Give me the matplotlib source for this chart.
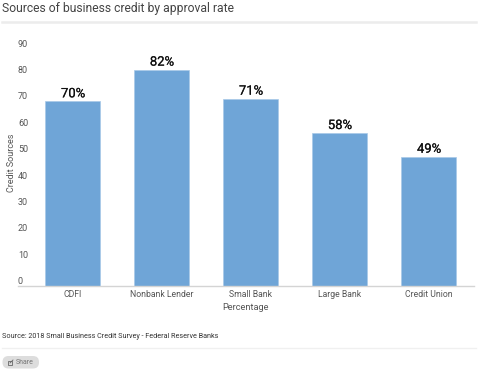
import matplotlib
matplotlib.use("Agg")
import matplotlib.pyplot as plt
import matplotlib.patheffects as pe
from matplotlib.patches import FancyBboxPatch, Rectangle
from matplotlib.lines import Line2D

categories = ["CDFI", "Nonbank Lender", "Small Bank", "Large Bank", "Credit Union"]
values = [70, 82, 71, 58, 49]
value_labels = ["70%", "82%", "71%", "58%", "49%"]
y_ticks = [0, 10, 20, 30, 40, 50, 60, 70, 80, 90]

W, H = 478, 373
plt.rcParams["font.family"] = ["Roboto", "DejaVu Sans"]
fig = plt.figure(figsize=(W / 100, H / 100), dpi=100, facecolor="white")

def fx(p): return p / W
def fy(p): return 1 - p / H

left, right, top, bottom = 18, 474, 48.6, 286.3
ax = fig.add_axes([fx(left), fy(bottom), (right - left) / W, (bottom - top) / H])
x = list(range(len(categories)))
ax.bar(x, values, width=0.618, color="#6fa5d7", edgecolor="#a9c9e8", linewidth=0.5, zorder=2)
ax.set_xlim(-0.618, 4.506)
ax.set_ylim(0, 90)
ax.set_xticks(x, categories)
ax.set_yticks(y_ticks, [str(v) for v in y_ticks])
ax.tick_params(axis="both", length=0, labelcolor="#555555", labelsize=6.2)
ax.tick_params(axis="y", pad=0, labelsize=6.5)
ax.tick_params(axis="x", pad=3.0)
for t in ax.get_yticklabels():
    t.set_ha("left")
    t.set_va("bottom")
for s in ["top", "right", "left"]:
    ax.spines[s].set_visible(False)
ax.spines["bottom"].set_color("#d4d4d4")
ax.spines["bottom"].set_linewidth(1.0)
ax.patch.set_alpha(0)

for xi, v, lab in zip(x, values, value_labels):
    ax.annotate(lab, (xi, v), xytext=(0, 0.8), textcoords="offset points",
                ha="center", va="bottom", fontsize=9.4, color="#111111",
                path_effects=[pe.withStroke(linewidth=0.12, foreground="#111111")])

fig.text(fx(11.5), fy(162.5), "Credit Sources", rotation=90, ha="center", va="center", fontsize=6.5, color="#555555")
fig.text(fx(246), fy(307), "Percentage", ha="center", va="center", fontsize=6.7, color="#555555")

fig.text(fx(2), fy(8.5), "Sources of business credit by approval rate", ha="left", va="center",
         fontsize=8.75, color="#444444")
fig.text(fx(2), fy(337), "Source: 2018 Small Business Credit Survey - Federal Reserve Banks",
         ha="left", va="center", fontsize=5.25, color="#333333")

fig.add_artist(Line2D([fx(2), fx(476)], [fy(21.5)] * 2, transform=fig.transFigure, color="#ececec", lw=1.8))
fig.add_artist(Line2D([fx(2), fx(476)], [fy(347.5)] * 2, transform=fig.transFigure, color="#f0f0f0", lw=1.0))

pill = FancyBboxPatch((8.5, H - 362.5), 24.5, 0.5, boxstyle="round,pad=6,rounding_size=6",
                      transform=None, fc="#dddddd", ec="none")
fig.add_artist(pill)
fig.add_artist(Rectangle((7.5, H - 365), 4.5, 4.0, transform=None, fc="none", ec="#666666", lw=0.6))
fig.add_artist(Line2D([10, 13], [H - 363, H - 360], transform=None, color="#666666", lw=0.6))
fig.text(fx(16), fy(362.5), "Share", ha="left", va="center", fontsize=5.0, color="#777777")

fig.savefig("out.png", dpi=100, facecolor="white")
